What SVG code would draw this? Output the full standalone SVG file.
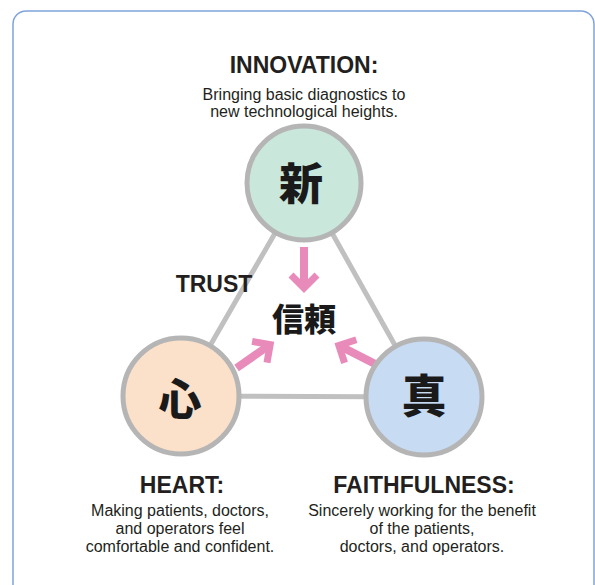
<svg xmlns="http://www.w3.org/2000/svg" width="595" height="585" viewBox="0 0 595 585">
  <defs>
    <style>
      .title { font-family: "Liberation Sans", Arial, sans-serif; font-weight: 700; font-size: 23px; fill: #231f20; text-anchor: middle; }
      .body { font-family: "Liberation Sans", Arial, sans-serif; font-size: 16px; fill: #231f20; text-anchor: middle; }
      .kanji { font-family: "Noto Sans CJK JP", "Noto Sans CJK SC", sans-serif; font-weight: 900; fill: #1a1a1a; text-anchor: middle; }
      .node { stroke: #b5b5b5; stroke-width: 5; }
      .edge { stroke: #c0c0c0; stroke-width: 5; fill: none; }
      .arrow { stroke: #e88bbb; fill: none; }
    </style>
    <!-- pink arrow pointing along +x, tip at the origin -->
    <g id="pinkArrow" class="arrow">
      <line x1="-42" y1="0" x2="-3" y2="0" stroke-width="8"/>
      <polyline points="-14,-13 -1,0 -14,13" stroke-width="7" stroke-linejoin="miter"/>
    </g>
  </defs>

  <rect x="0" y="0" width="595" height="585" fill="#ffffff"/>
  <!-- panel frame -->
  <rect x="13" y="11" width="581" height="620" rx="13" fill="#ffffff" stroke="#7fa3dc" stroke-width="1.5"/>

  <!-- triangle links and inward arrows -->
  <g id="connectors">
    <polygon class="edge" points="304,183 181,396 424,397"/>
    <use href="#pinkArrow" transform="translate(304,289) rotate(90)"/>
    <use href="#pinkArrow" transform="translate(271,344) rotate(-35)"/>
    <use href="#pinkArrow" transform="translate(338,345) rotate(-153)"/>
  </g>

  <g id="innovation">
    <text class="title" x="304" y="73">INNOVATION:</text>
    <text class="body" x="304" y="100">Bringing basic diagnostics to</text>
    <text class="body" x="304" y="117">new technological heights.</text>
    <circle class="node" cx="304" cy="183" r="57" fill="#c9e7db"/>
    <text class="kanji" x="301" y="200" font-size="44">新</text>
  </g>

  <g id="trust">
    <text class="title" x="214" y="292">TRUST</text>
    <text class="kanji" x="304" y="331" font-size="32">信頼</text>
  </g>

  <g id="heart">
    <circle class="node" cx="181" cy="396" r="58" fill="#fbe0ca"/>
    <text class="kanji" x="180" y="415" font-size="43">心</text>
    <text class="title" x="182" y="493">HEART:</text>
    <text class="body" x="180" y="516">Making patients, doctors,</text>
    <text class="body" x="180" y="534">and operators feel</text>
    <text class="body" x="180" y="552">comfortable and confident.</text>
  </g>

  <g id="faithfulness">
    <circle class="node" cx="424" cy="397" r="58" fill="#c7dbf3"/>
    <text class="kanji" x="424" y="413" font-size="45">真</text>
    <text class="title" x="424" y="493">FAITHFULNESS:</text>
    <text class="body" x="422" y="516">Sincerely working for the benefit</text>
    <text class="body" x="422" y="534">of the patients,</text>
    <text class="body" x="422" y="552">doctors, and operators.</text>
  </g>
</svg>
